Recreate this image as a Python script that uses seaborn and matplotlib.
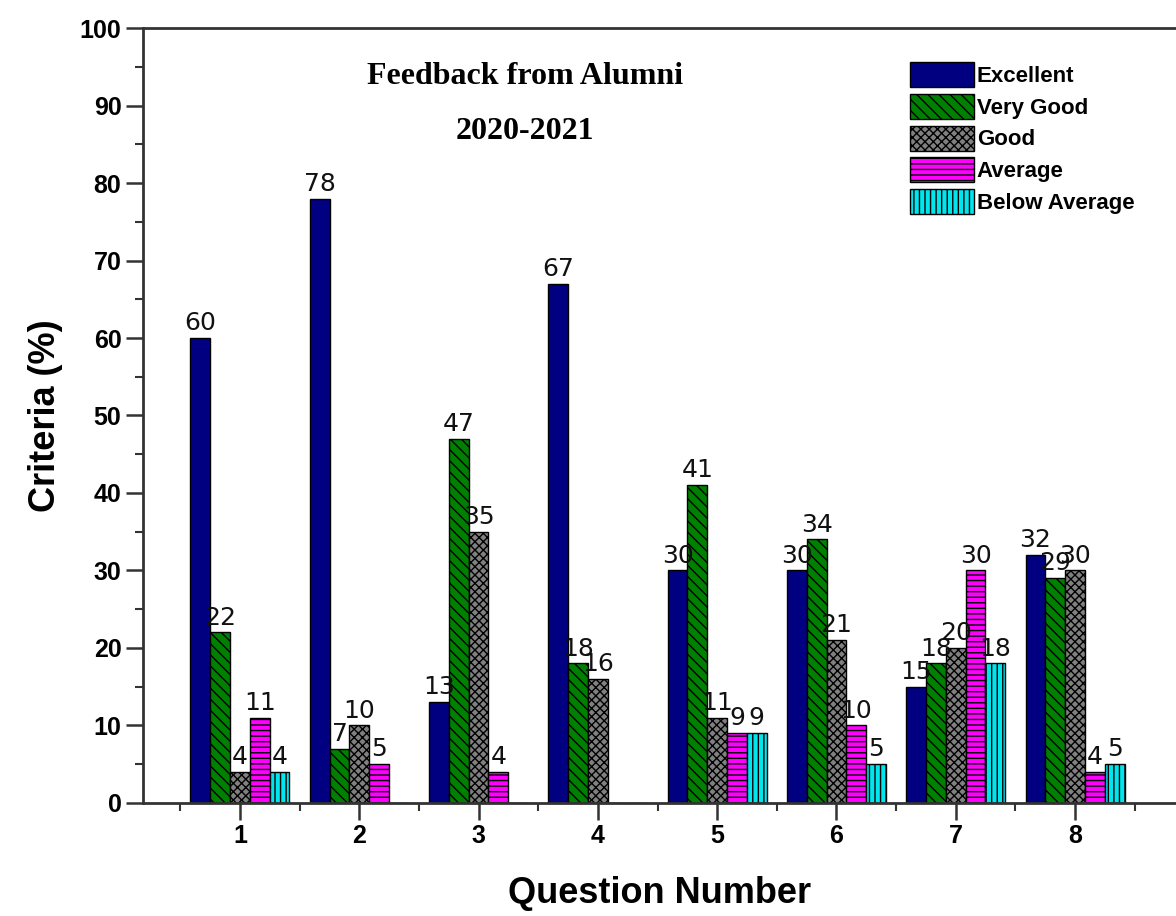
import numpy as np
import pandas as pd
import matplotlib.pyplot as plt
import seaborn as sns
from matplotlib.ticker import MultipleLocator, FixedLocator

# Data
questions = ['1', '2', '3', '4', '5', '6', '7', '8']
criteria = ['Excellent', 'Very Good', 'Good', 'Average', 'Below Average']
excellent = [60, 78, 13, 67, 30, 30, 15, 32]
very_good = [22, 7, 47, 18, 41, 34, 18, 29]
good = [4, 10, 35, 16, 11, 21, 20, 30]
average = [11, 5, 4, 0, 9, 10, 30, 4]
below_average = [4, 0, 0, 0, 9, 5, 18, 5]

colors = ['#000080', '#008000', '#808080', '#ff00ff', '#00e5ee']
hatches = ['', '\\\\\\', 'xxxx', '---', '|||']

rows = []
for name, vals in zip(criteria, [excellent, very_good, good, average, below_average]):
    for q, v in zip(questions, vals):
        rows.append({'question': q, 'criteria': name, 'pct': v})
df = pd.DataFrame(rows)

sns.set_theme(style="white")
plt.rcParams['hatch.linewidth'] = 1.0
plt.rcParams['text.color'] = 'black'
plt.rcParams['axes.labelcolor'] = 'black'
plt.rcParams['xtick.color'] = 'black'
plt.rcParams['ytick.color'] = 'black'

fig = plt.figure(figsize=(11.76, 9.16), dpi=100)
ax = fig.add_axes([0.1216, 0.1234, 0.8784, 0.846])

sns.barplot(data=df, x='question', y='pct', hue='criteria', order=questions,
            hue_order=criteria, palette=colors, saturation=1, edgecolor='black',
            linewidth=1, width=0.83, gap=0, legend=False, ax=ax)

for cont, h, vals in zip(ax.containers, hatches,
                         [excellent, very_good, good, average, below_average]):
    for p in cont.patches:
        p.set_hatch(h)
    ax.bar_label(cont, labels=[str(v) if v > 0 else '' for v in vals],
                 padding=2, fontsize=18, family='DejaVu Sans', color='#111111')

ax.set_xlim(-0.813, 7.846)
ax.set_ylim(0, 100)
ax.yaxis.set_major_locator(MultipleLocator(10))
ax.yaxis.set_minor_locator(MultipleLocator(5))
ax.xaxis.set_minor_locator(FixedLocator(np.arange(-0.5, 8, 1.0)))

ax.tick_params(axis='both', which='major', direction='out', length=12, width=1.8,
               color='#333333', labelsize=18)
ax.tick_params(axis='both', which='minor', direction='out', length=6, width=1.5,
               color='#333333')
ax.tick_params(axis='x', which='both', bottom=True)
ax.tick_params(axis='y', which='both', left=True)
for lbl in ax.get_xticklabels() + ax.get_yticklabels():
    lbl.set_fontfamily('Liberation Sans')
    lbl.set_fontweight('bold')

for side in ['left', 'top', 'bottom']:
    ax.spines[side].set_color('#333333')
    ax.spines[side].set_linewidth(2)
ax.spines['right'].set_visible(False)

ax.set_xlabel('Question Number', fontsize=26, fontweight='bold',
              family='Liberation Sans', labelpad=20)
ax.set_ylabel('Criteria (%)', fontsize=26, fontweight='bold',
              family='Liberation Sans', labelpad=12)

ax.text(0.37, 0.937, 'Feedback from Alumni', transform=ax.transAxes,
        ha='center', va='center', fontsize=23, fontweight='bold',
        family='Liberation Serif')
ax.text(0.37, 0.866, '2020-2021', transform=ax.transAxes,
        ha='center', va='center', fontsize=23, fontweight='bold',
        family='Liberation Serif')

ax.legend(ax.containers, criteria, loc='upper left', bbox_to_anchor=(0.732, 0.97),
          frameon=False, borderpad=0, handlelength=2.85, handleheight=1.35,
          labelspacing=0.3, handletextpad=0.15,
          prop={'family': 'Liberation Sans', 'weight': 'bold', 'size': 16})

fig.savefig('out.png', dpi=100)
